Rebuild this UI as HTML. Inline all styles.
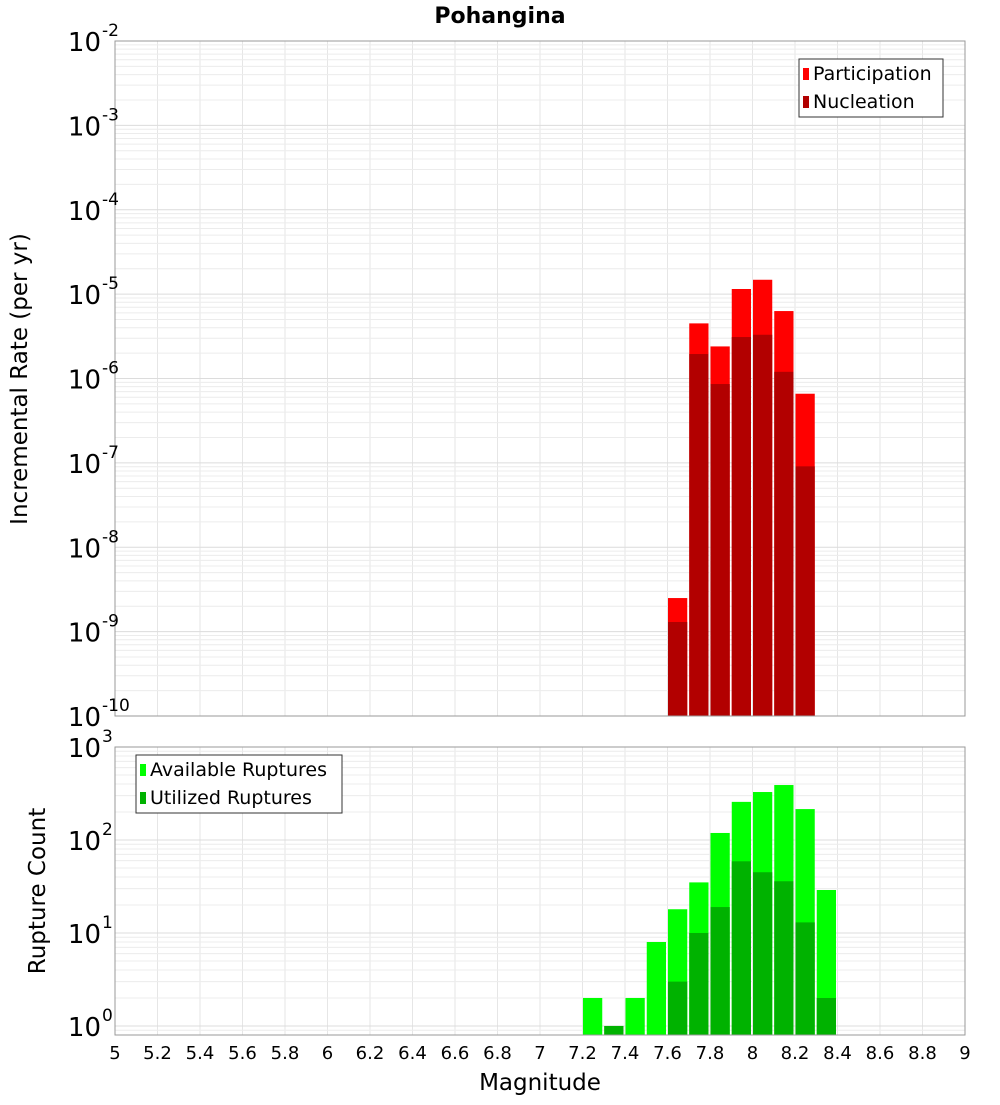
<!DOCTYPE html>
<html><head><meta charset="utf-8"><style>
body{margin:0;background:#fff;}
svg text{font-family:"DejaVu Sans","Liberation Sans",sans-serif;}
</style></head><body>
<svg id="chart" width="1000" height="1100" xmlns="http://www.w3.org/2000/svg">
<text x="500" y="23" text-anchor="middle" font-size="22" font-weight="bold">Pohangina</text>
<g id="top"></g><g id="bot"></g>
<text transform="translate(27,379) rotate(-90)" text-anchor="middle" font-size="23">Incremental Rate (per yr)</text>
<text transform="translate(45,891) rotate(-90)" text-anchor="middle" font-size="23">Rupture Count</text>
<text x="540" y="1090" text-anchor="middle" font-size="23">Magnitude</text>
</svg>
<script>
const binCenters=[7.65,7.75,7.85,7.95,8.05,8.15,8.25];
const participation=[2.5e-9,4.5e-6,2.4e-6,1.15e-5,1.48e-5,6.3e-6,6.6e-7];
const nucleation=[1.3e-9,1.95e-6,8.6e-7,3.1e-6,3.3e-6,1.2e-6,9.1e-8];
const countBins=[7.25,7.35,7.45,7.55,7.65,7.75,7.85,7.95,8.05,8.15,8.25,8.35];
const available=[2,1,2,8,18,35,119,257,328,390,215,29];
const utilized=[0,1,0,0,3,10,19,59,45,36,13,2];
const xTicks=[5,5.2,5.4,5.6,5.8,6,6.2,6.4,6.6,6.8,7,7.2,7.4,7.6,7.8,8,8.2,8.4,8.6,8.8,9];
const topExps=[-2,-3,-4,-5,-6,-7,-8,-9,-10];
const botExps=[3,2,1,0];

const NS="http://www.w3.org/2000/svg";
const X0=115,X1=965;
const xs=m=>X0+(m-5)/4*(X1-X0);
function mk(p,t,a){const e=document.createElementNS(NS,t);for(const k in a)e.setAttribute(k,a[k]);p.appendChild(e);return e;}
function panel(g,top,bottom,ymax,ymin,name){
  const ys=v=>top+(ymax-Math.log10(v))/(ymax-ymin)*(bottom-top);
  mk(g,'rect',{x:X0,y:top,width:X1-X0,height:bottom-top,fill:'#fff'});
  for(let m=5;m<=9.001;m+=0.2){const l=mk(g,'line',{x1:xs(m),x2:xs(m),y1:top,y2:bottom,stroke:'#e6e6e6'});
    }
  for(let e=Math.floor(ymin);e<Math.ceil(ymax);e++)for(let k=1;k<10;k++){const v=k*Math.pow(10,e);
    const y=ys(v);if(y<top-0.5||y>bottom+0.5)continue;
    const l=mk(g,'line',{x1:X0,x2:X1,y1:y,y2:y,stroke:k==1?'#dcdcdc':'#ececec'});
    }
  return ys;
}
function bars(g,centers,vals,ys,bottom,color,name){
  centers.forEach((c,i)=>{if(vals[i]<=0)return;const x=xs(c-0.05)+0.5,w=xs(c+0.05)-xs(c-0.05)-2;const y=ys(vals[i]);
    const r=mk(g,'rect',{x:x,y:y,width:w,height:bottom-y,fill:color});
    });
}
function border(g,top,bottom){mk(g,'rect',{x:X0,y:top,width:X1-X0,height:bottom-top,fill:'none',stroke:'#999'});}
function ylabels(g,exps,ys,name){exps.forEach(e=>{const y=ys(Math.pow(10,e));
  const t=mk(g,'text',{x:101,y:y+10,'text-anchor':'end','font-size':26});
  
  t.textContent='10';
  const s=mk(g,'text',{x:102,y:y-5,'font-size':17});s.textContent=String(e);
  });}
function legend(g,x,y,w,items,name){const r=mk(g,'rect',{x:x,y:y,width:w,height:58,fill:'#fff',stroke:'#333'});
  
  items.forEach((it,i)=>{mk(g,'rect',{x:x+4,y:y+9+i*28,width:6,height:12,fill:it[1]});
    const t=mk(g,'text',{x:x+14,y:y+21+i*28,'font-size':19});t.textContent=it[0];
    });}

const gt=document.getElementById('top');
const ysT=panel(gt,41,716,-2,-10,'top');
bars(gt,binCenters,participation,ysT,716,'#ff0000','participation');
bars(gt,binCenters,nucleation,ysT,716,'#b20000','nucleation');
border(gt,41,716);ylabels(gt,topExps,ysT,'top');
legend(gt,799,59,144,[['Participation','#ff0000'],['Nucleation','#b20000']],'top-legend');

const gb=document.getElementById('bot');
const ysB=panel(gb,747,1035,3,-0.097,'bottom');
bars(gb,countBins,available,ysB,1035,'#00ff00','available');
bars(gb,countBins,utilized,ysB,1035,'#00b200','utilized');
border(gb,747,1035);ylabels(gb,botExps,ysB,'bottom');
legend(gb,136,755,206,[['Available Ruptures','#00ff00'],['Utilized Ruptures','#00b200']],'bottom-legend');

xTicks.forEach(m=>{const t=mk(gb,'text',{x:xs(m),y:1059,'text-anchor':'middle','font-size':18});
  t.textContent=String(m);});
</script>
</body></html>
